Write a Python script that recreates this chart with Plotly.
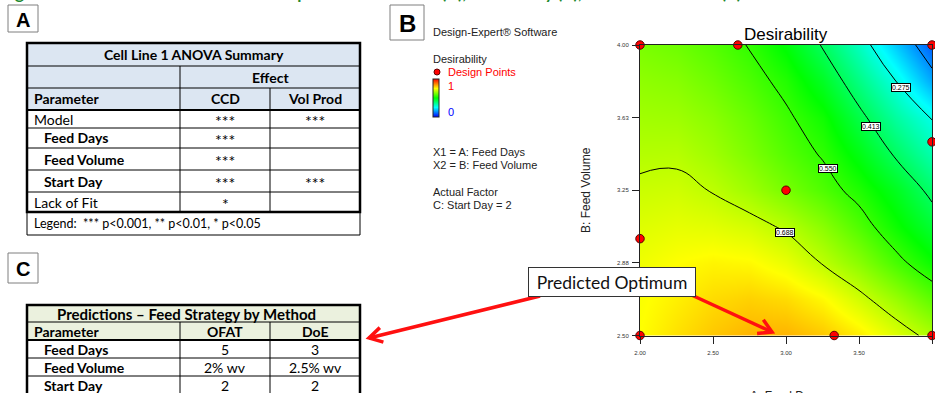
import math
import plotly.graph_objects as go

W, H = 935, 393

# ---------------- data ----------------
heading = ("Figure 4: Cell Line 1 ANOVA and feed optimization results (A), "
           "desirability (B), and OFAT vs DoE (C)")

anova_title = "Cell Line 1 ANOVA Summary"
anova_group = "Effect"
anova_header = ["Parameter", "CCD", "Vol Prod"]
anova_params = ["Model", "Feed Days", "Feed Volume", "Start Day", "Lack of Fit"]
anova_is_factor = [False, True, True, True, False]
anova_ccd = ["***", "***", "***", "***", "*"]
anova_volprod = ["***", "", "", "***", ""]
anova_legend = "Legend:  *** p<0.001, ** p<0.01, * p<0.05"

pred_title = "Predictions \u2013 Feed Strategy by Method"
pred_header = ["Parameter", "OFAT", "DoE"]
pred_params = ["Feed Days", "Feed Volume", "Start Day"]
pred_ofat = ["5", "2% wv", "2"]
pred_doe = ["3", "2.5% wv", "2"]

# response surface (Start Day = 2), rows follow feed_volume, columns feed_days
feed_days = [2.0, 2.25, 2.5, 2.75, 3.0, 3.25, 3.5, 3.75, 4.0]
feed_volume = [2.5, 2.6875, 2.875, 3.0625, 3.25, 3.4375, 3.625, 3.8125, 4.0]
desirability = [
    [0.750, 0.780, 0.805, 0.825, 0.825, 0.805, 0.770, 0.720, 0.670],
    [0.745, 0.765, 0.785, 0.795, 0.785, 0.755, 0.705, 0.650, 0.590],
    [0.735, 0.750, 0.760, 0.755, 0.730, 0.685, 0.635, 0.570, 0.510],
    [0.718, 0.726, 0.722, 0.708, 0.680, 0.635, 0.578, 0.512, 0.450],
    [0.698, 0.702, 0.685, 0.655, 0.617, 0.577, 0.530, 0.470, 0.395],
    [0.676, 0.678, 0.656, 0.622, 0.583, 0.545, 0.482, 0.405, 0.330],
    [0.658, 0.655, 0.635, 0.602, 0.561, 0.515, 0.432, 0.345, 0.272],
    [0.640, 0.632, 0.608, 0.574, 0.533, 0.465, 0.372, 0.277, 0.165],
    [0.620, 0.607, 0.582, 0.547, 0.492, 0.408, 0.312, 0.197, 0.090],
]
contour_levels = [0.138, 0.275, 0.413, 0.550, 0.688]

design_days = [2.0, 2.67, 4.0, 4.0, 3.0, 2.0, 2.0, 3.33, 4.0]
design_volume = [4.0, 4.0, 4.0, 3.5, 3.25, 3.0, 2.5, 2.5, 2.5]

x_ticks = [2.0, 2.5, 3.0, 3.5, 4.0]
x_tick_text = ["2.00", "2.50", "3.00", "3.50", "4.00"]
y_ticks = [2.5, 2.875, 3.25, 3.625, 4.0]
y_tick_text = ["2.50", "2.88", "3.25", "3.63", "4.00"]

legend_lines = ["X1 = A: Feed Days", "X2 = B: Feed Volume"]
factor_lines = ["Actual Factor", "C: Start Day = 2"]
callout = "Predicted Optimum"

# ---------------- helpers (pixel -> paper) ----------------
def fx(x):
    return x / W


def fy(y):
    return 1 - y / H


shapes = []
annotations = []

TABLE_FONT = "Lato"
DE_FONT = "Liberation Sans"


def line(x0, y0, x1, y1, width=1, color="#000000"):
    shapes.append(dict(type="line", xref="paper", yref="paper",
                       x0=fx(x0), y0=fy(y0), x1=fx(x1), y1=fy(y1),
                       line=dict(color=color, width=width), layer="above"))


def rect(x0, y0, x1, y1, fill="rgba(0,0,0,0)", width=1, color="#000000"):
    shapes.append(dict(type="rect", xref="paper", yref="paper",
                       x0=fx(x0), y0=fy(y0), x1=fx(x1), y1=fy(y1),
                       fillcolor=fill, line=dict(color=color, width=width),
                       layer="above"))


def text(x, y, s, size=14, bold=False, anchor="left", color="#000000",
         family=TABLE_FONT, yanchor="middle"):
    annotations.append(dict(xref="paper", yref="paper", x=fx(x), y=fy(y),
                            text=f"<b>{s}</b>" if bold else s,
                            showarrow=False, xanchor=anchor, yanchor=yanchor,
                            font=dict(family=family, size=size, color=color)))


def panel_tag(x0, y0, x1, y1, letter, size):
    rect(x0, y0, x1, y1, fill="white", width=1, color="#7f7f7f")
    text((x0 + x1) / 2, (y0 + y1) / 2 + 1, letter, size=size, bold=True,
         anchor="center", family=DE_FONT)


# ---------------- heading (runs off the top edge) ----------------
text(-1, 5.5, heading, size=17, bold=True, color="#1f8a2e", yanchor="bottom")

# ---------------- table A : ANOVA summary ----------------
panel_tag(8, 5, 38, 32, "A", 20)
ax_ = [27, 180, 270, 360]
ay_ = [43, 66, 88, 110, 128, 148, 170, 192, 212]
rect(ax_[0], ay_[0], ax_[3], ay_[3], fill="#dce6f2", width=0)
line(ax_[0], ay_[1], ax_[3], ay_[1])
line(ax_[0], ay_[2], ax_[3], ay_[2])
for yy in ay_[4:8]:
    line(ax_[0], yy, ax_[3], yy)
line(ax_[1], ay_[1], ax_[1], ay_[8])
line(ax_[2], ay_[2], ax_[2], ay_[8])
line(ax_[0], ay_[3], ax_[3], ay_[3], width=2)
rect(ax_[0], ay_[8], ax_[3], 235, width=1)
rect(ax_[0], ay_[0], ax_[3], ay_[8], width=2.5)

text((ax_[0] + ax_[3]) / 2, (ay_[0] + ay_[1]) / 2, anova_title, bold=True, anchor="center")
text((ax_[1] + ax_[3]) / 2, (ay_[1] + ay_[2]) / 2, anova_group, bold=True, anchor="center")
hy = (ay_[2] + ay_[3]) / 2
text(32, hy, anova_header[0], bold=True)
text((ax_[1] + ax_[2]) / 2, hy, anova_header[1], bold=True, anchor="center")
text((ax_[2] + ax_[3]) / 2, hy, anova_header[2], bold=True, anchor="center")
for i, name in enumerate(anova_params):
    cy = (ay_[3 + i] + ay_[4 + i]) / 2
    if anova_is_factor[i]:
        text(42, cy, name, bold=True)
    else:
        text(32, cy, name)
    text((ax_[1] + ax_[2]) / 2, cy + 1, anova_ccd[i], size=16, anchor="center")
    text((ax_[2] + ax_[3]) / 2, cy + 1, anova_volprod[i], size=16, anchor="center")
text(32, (ay_[8] + 235) / 2, anova_legend, size=12.5)

# ---------------- table C : predictions ----------------
panel_tag(8, 253, 38, 283, "C", 20)
cx_ = [27, 180, 270, 360]
cy_ = [305, 322, 340, 358, 376, 394]
rect(cx_[0], cy_[0], cx_[3], cy_[2], fill="#ebf1de", width=0)
for yy in [cy_[1], cy_[3], cy_[4]]:
    line(cx_[0], yy, cx_[3], yy)
line(cx_[0], cy_[2], cx_[3], cy_[2], width=2)
line(cx_[1], cy_[1], cx_[1], 398)
line(cx_[2], cy_[1], cx_[2], 398)
rect(cx_[0], cy_[0], cx_[3], 398, width=2.5)

text(186, (cy_[0] + cy_[1]) / 2, pred_title, size=15,
     bold=True, anchor="center")
hy = (cy_[1] + cy_[2]) / 2
text(32, hy, pred_header[0], bold=True)
text((cx_[1] + cx_[2]) / 2, hy, pred_header[1], bold=True, anchor="center")
text((cx_[2] + cx_[3]) / 2, hy, pred_header[2], bold=True, anchor="center")
for i, name in enumerate(pred_params):
    cy = (cy_[2 + i] + cy_[3 + i]) / 2
    text(42, cy, name, bold=True)
    text((cx_[1] + cx_[2]) / 2, cy, pred_ofat[i], anchor="center")
    text((cx_[2] + cx_[3]) / 2, cy, pred_doe[i], anchor="center")

# ---------------- panel B : Design-Expert legend block ----------------
panel_tag(390, 5, 424, 40, "B", 24)
text(431, 32, "Design-Expert\u00ae Software", size=11, color="#222222", family=DE_FONT)
text(431, 59, "Desirability", size=11, color="#222222", family=DE_FONT)
shapes.append(dict(type="circle", xref="paper", yref="paper",
                   x0=fx(434), y0=fy(75), x1=fx(440), y1=fy(69),
                   fillcolor="#ff0000", line=dict(color="#600000", width=1),
                   layer="above"))
text(446, 72, "Design Points", size=11, color="#ff0000", family=DE_FONT)
text(446, 86, "1", size=11, color="#ff0000", family=DE_FONT)
text(446, 112, "0", size=11, color="#0000ff", family=DE_FONT)
for k, s in enumerate(legend_lines):
    text(431, 152 + 13 * k, s, size=11, color="#222222", family=DE_FONT)
for k, s in enumerate(factor_lines):
    text(431, 192 + 13 * k, s, size=11, color="#222222", family=DE_FONT)

# ---------------- contour plot ----------------
colorscale = [[0.0, "#0000ff"], [0.25, "#00ffff"], [0.5, "#00ff00"],
              [0.75, "#ffff00"], [1.0, "#ff0000"]]

fig = go.Figure()
fig.add_trace(go.Heatmap(
    x=feed_days, y=feed_volume, z=desirability, zmin=0, zmax=1,
    zsmooth="best", colorscale=colorscale, hoverinfo="skip",
    colorbar=dict(x=fx(433), xanchor="left", xpad=0,
                  y=fy(79), yanchor="top", ypad=0,
                  thickness=6, thicknessmode="pixels",
                  len=38, lenmode="pixels",
                  outlinewidth=1, outlinecolor="#222222",
                  showticklabels=False, ticks=""),
))
step = (contour_levels[-1] - contour_levels[0]) / (len(contour_levels) - 1)
fig.add_trace(go.Contour(
    x=feed_days, y=feed_volume, z=desirability, showscale=False,
    contours=dict(coloring="none", start=contour_levels[0],
                  end=contour_levels[-1] + 1e-6, size=step),
    line=dict(color="#000000", width=1, smoothing=1.3),
    hoverinfo="skip",
))
fig.add_trace(go.Scatter(
    x=design_days, y=design_volume, mode="markers", cliponaxis=False,
    marker=dict(size=8.5, color="#ff0000", line=dict(color="#5a0000", width=1)),
    hoverinfo="skip",
))

# contour value tags
label_spots = {0.275: (3.79, 3.78), 0.413: (3.58, 3.58),
               0.550: (3.29, 3.36), 0.688: (2.99, 3.03)}
for lvl, (lx, ly) in label_spots.items():
    annotations.append(dict(xref="x", yref="y", x=lx, y=ly,
                            text=f"{lvl:.3f}", showarrow=False,
                            bgcolor="white", bordercolor="#000000",
                            borderwidth=1, borderpad=0,
                            font=dict(family=DE_FONT, size=7, color="#000000")))

text(786, 34, "Desirability", size=17, anchor="center", family=DE_FONT)
annotations.append(dict(xref="paper", yref="paper", x=fx(586), y=fy(190),
                        text="B: Feed Volume", textangle=-90, showarrow=False,
                        font=dict(family=DE_FONT, size=12, color="#222222")))
text(786, 387, "A: Feed Days", size=12, anchor="center", color="#222222",
     family=DE_FONT, yanchor="top")

# ---------------- callout arrows ----------------
def arrow(tail, tip, arm=15, spread=30, width=3.5, color="#ff1010"):
    line(tail[0], tail[1], tip[0], tip[1], width=width, color=color)
    dx, dy = tip[0] - tail[0], tip[1] - tail[1]
    n = math.hypot(dx, dy)
    dx, dy = dx / n, dy / n
    pts = []
    for sgn in (1, -1):
        a = math.radians(spread * sgn)
        rx = dx * math.cos(a) - dy * math.sin(a)
        ry = dx * math.sin(a) + dy * math.cos(a)
        pts.append((tip[0] - arm * rx, tip[1] - arm * ry))
    path = (f"M {fx(pts[0][0])},{fy(pts[0][1])} L {fx(tip[0])},{fy(tip[1])} "
            f"L {fx(pts[1][0])},{fy(pts[1][1])}")
    shapes.append(dict(type="path", xref="paper", yref="paper", path=path,
                       line=dict(color=color, width=width), layer="above"))


arrow((540, 296), (369, 338))
arrow((685, 292), (772, 332))
annotations.append(dict(xref="paper", yref="paper", x=fx(612), y=fy(297),
                        text=callout, showarrow=False, width=166, height=28,
                        bgcolor="white", bordercolor="#333333", borderwidth=1,
                        borderpad=0,
                        font=dict(family=TABLE_FONT, size=17.5, color="#111111")))

axis_common = dict(showgrid=False, zeroline=False, showline=True,
                   linecolor="#222222", linewidth=1, mirror=True,
                   ticks="outside", ticklen=7, tickwidth=1, tickcolor="#222222",
                   tickfont=dict(family=DE_FONT, size=6, color="#333333"))

fig.update_layout(
    width=W, height=H,
    margin=dict(l=0, r=0, t=0, b=0, autoexpand=False),
    paper_bgcolor="white", plot_bgcolor="white",
    showlegend=False,
    xaxis=dict(domain=[fx(640), fx(932)], range=[2, 4],
               tickvals=x_ticks, ticktext=x_tick_text,
               ticklabelstandoff=4, **axis_common),
    yaxis=dict(domain=[fy(335.5), fy(45)], range=[2.5, 4],
               tickvals=y_ticks, ticktext=y_tick_text,
               ticklabelstandoff=2, **axis_common),
    shapes=shapes,
    annotations=annotations,
)

fig.write_html("out.html")
